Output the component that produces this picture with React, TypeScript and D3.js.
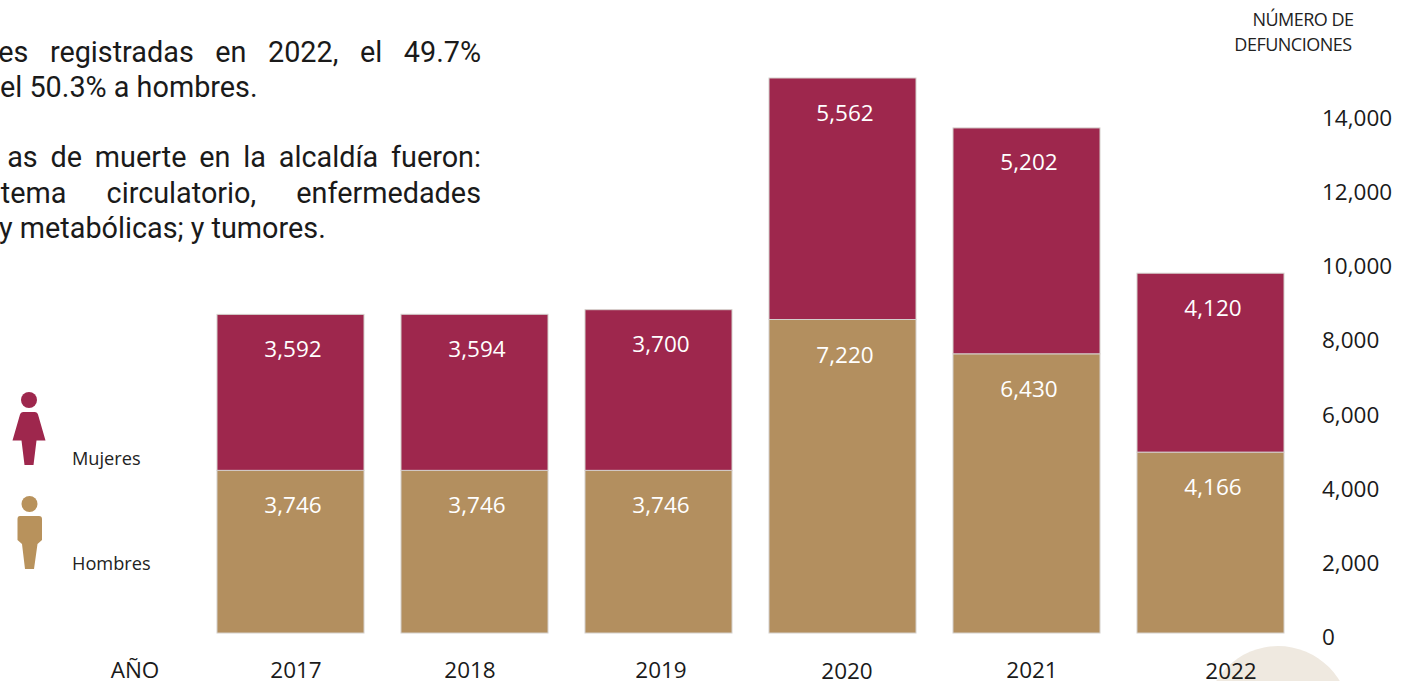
import React from "react";
import * as d3 from "d3";

const years = ["2017", "2018", "2019", "2020", "2021", "2022"];
const hombres = [3746, 3746, 3746, 7220, 6430, 4166];
const mujeres = [3592, 3594, 3700, 5562, 5202, 4120];
const axisTicks = [0, 2000, 4000, 6000, 8000, 10000, 12000, 14000];
const yearLabelCenters = [296, 470, 661, 847, 1032, 1231];
const yearLabelY = [670, 670, 670, 671, 670, 671];

const textLines = [
  { t: "es registradas en 2022, el 49.7%", y: 62, ws: 14.4, end: true },
  { t: "el 50.3% a hombres.", y: 97, ws: 0, end: false, x: 0 },
  { t: "as de muerte en la alcaldía fueron:", y: 167, ws: 5.7, end: true },
  { t: "tema circulatorio, enfermedades", y: 203, ws: 33, end: true },
  { t: "y metabólicas; y tumores.", y: 238, ws: 0, end: false, x: -1 },
];

const SANS = "'Open Sans', sans-serif";
const WIDTH = 1407;
const HEIGHT = 681;
const WINE = "#9e274d";
const GOLD = "#b38f5f";

export default function App() {
  const x = d3.scaleBand<string>().domain(years).range([198.5, 1302.5]).paddingInner(37 / 184).paddingOuter(18.5 / 184);
  const y = d3.scaleLinear().domain([0, 14000]).range([633, 633 - 14000 * 0.04342]);
  const axisY = d3.scaleLinear().domain([0, 14000]).range([637, 118]);
  const fmt = d3.format(",");
  const stack = d3.stack<number>().keys(["h", "m"]).value((i, k) => (k === "h" ? hombres[i] : mujeres[i]))(
    d3.range(years.length)
  );
  const [sH, sM] = stack;

  return (
    <svg
      width={WIDTH}
      height={HEIGHT}
      viewBox={`0 0 ${WIDTH} ${HEIGHT}`}
      style={{ position: "absolute", left: 0, top: 0, display: "block", background: "#fff" }}
    >
      <circle cx={1278} cy={718} r={72} fill="#efe9e0" />

      <g fontFamily="Roboto, sans-serif" fontSize={28.8} fill="#1a1a1a">
        {textLines.map((l) => (
          <text key={l.t} x={l.end ? 481 : l.x} y={l.y} textAnchor={l.end ? "end" : "start"} wordSpacing={l.ws}>
            {l.t}
          </text>
        ))}
      </g>

      {years.map((yr, i) => (
        <g key={yr}>
          <rect
            x={x(yr)}
            width={x.bandwidth()}
            y={y(sH[i][1])}
            height={y(sH[i][0]) - y(sH[i][1])}
            fill={GOLD}
            stroke="#d4d0cc"
            strokeWidth={1}
          />
          <rect
            x={x(yr)}
            width={x.bandwidth()}
            y={y(sM[i][1])}
            height={y(sM[i][0]) - y(sM[i][1])}
            fill={WINE}
            stroke="#d4d0cc"
            strokeWidth={1}
          />
          <text
            x={x(yr)! + x.bandwidth() / 2 + 2.5}
            y={y(sH[i][1]) + 43}
            textAnchor="middle"
            fontFamily={SANS}
            fontSize={22.5}
            fill="#fff"
          >
            {fmt(hombres[i])}
          </text>
          <text
            x={x(yr)! + x.bandwidth() / 2 + 2.5}
            y={y(sM[i][1]) + 42.5}
            textAnchor="middle"
            fontFamily={SANS}
            fontSize={22.5}
            fill="#fff"
          >
            {fmt(mujeres[i])}
          </text>
          <text
            x={yearLabelCenters[i]}
            y={yearLabelY[i] + 8}
            textAnchor="middle"
            fontFamily={SANS}
            fontSize={22.5}
            fill="#1a1a1a"
          >
            {yr}
          </text>
        </g>
      ))}

      <g fontFamily={SANS} fontSize={22.5} fill="#1a1a1a">
        {axisTicks.map((t) => (
          <text key={t} x={1322} y={axisY(t) + 8}>
            {fmt(t)}
          </text>
        ))}
        <text x={135} y={678} textAnchor="middle">AÑO</text>
      </g>

      <g fontFamily={SANS} fontSize={18} fill="#222" letterSpacing={-0.5}>
        <text x={1303} y={26} textAnchor="middle">NÚMERO DE</text>
        <text x={1293} y={51} textAnchor="middle">DEFUNCIONES</text>
      </g>

      <g fontFamily={SANS} fontSize={18.2} fill="#222">
        <text x={72} y={465}>Mujeres</text>
        <text x={72} y={570}>Hombres</text>
      </g>

      <g fill={WINE}>
        <circle cx={29} cy={400} r={8} />
        <path d="M23,412 H35 Q37.5,412 38,414.5 L45.5,440.5 H36.5 L33.5,465 H24.5 L21.5,440.5 H12.5 L20,414.5 Q20.5,412 23,412 Z" />
      </g>
      <g fill="#b8925c">
        <circle cx={29.5} cy={504} r={8} />
        <path d="M20,516 H39 Q42,516 42,519 V540 L37.5,544 L34,569 H25 L22,544 L17.5,540 V519 Q17.5,516 20,516 Z" />
      </g>
    </svg>
  );
}
